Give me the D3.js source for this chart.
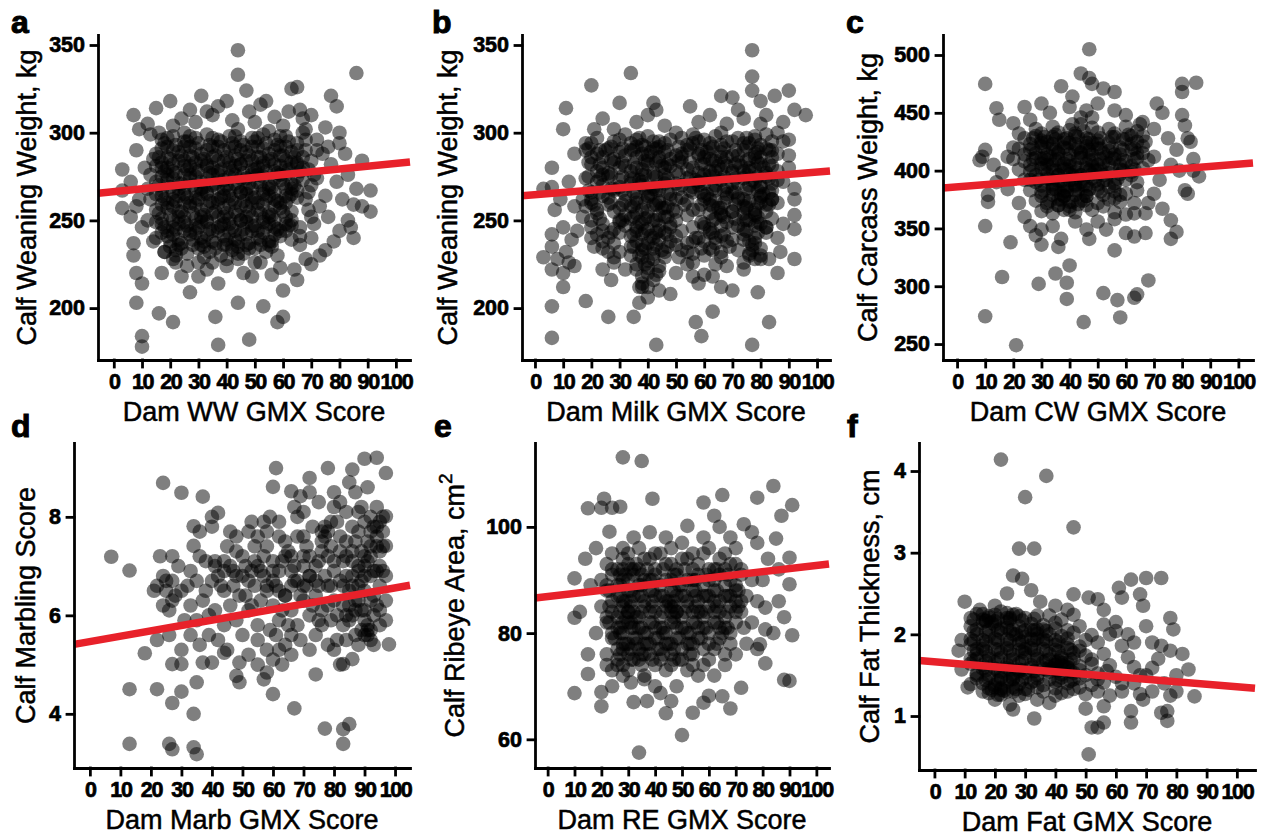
<!DOCTYPE html>
<html>
<head>
<meta charset="utf-8">
<script src="https://cdn.jsdelivr.net/npm/d3@7"></script>
<style>
body { margin: 0; background: #fff; }
text { font-family: "Liberation Sans", Arial, sans-serif; }
</style>
</head>
<body>
<div id="hook"></div>
<script>
// calf weaning weight vs dam WW GMX score
var ptsA = [
[44,347],[44,333],[86,334],[63,325],[65,326],[47,324],[31,321],[77,321],[79,315],[7,310],[15,314],[20,318],[27,313],[37,315],[54,318],[52,316],[66,313],[70,310],[9,302],[13,299],[21,304],[35,310],[75,303],[80,294],[88,284],[3,279],[3,267],[3,257],[6,252],[91,267],[91,255],[85,259],[83,250],[85,240],[80,244],[81,262],[75,264],[76,252],[75,233],[70,240],[70,225],[65,216],[60,210],[60,195],[58,192],[53,201],[48,182],[44,203],[37,179],[36,195],[21,192],[16,197],[10,184],[10,178],[8,203],[8,220],[10,214],[7,230],[7,237],[27,209],[24,218],[17,220],[33,222],[37,214],[49,218],[59,223],[44,231],[42,235],
[8,290],[11,280],[6,272],[9,262],[12,305],[16,300],[24,308],[29,306],[33,312],[40,318],[42,307],[48,312],[50,306],[57,309],[60,304],[62,312],[68,302],[72,296],[74,288],[77,282],[79,272],[82,288],[83,276],[86,268],[88,258],[84,246],[78,238],[73,230],[68,228],[64,222],[56,219],[52,226],[46,220],[40,224],[35,226],[30,218],[26,224],[22,226],[18,232],[14,238],[10,246],[8,258],[12,268],[14,285],[66,236],[71,248],[73,258],[69,266],[72,274],[76,292],[80,300],[67,308],
[17,296],[21,298],[25,295],[29,297],[33,299],[37,296],[41,298],[45,295],[49,297],[53,299],[57,296],[61,298],[65,294],
[15,288],[19,286],[23,289],[27,287],[31,288],[35,286],[39,290],[43,287],[47,289],[51,286],[55,288],[59,287],[63,289],[67,286],
[17,280],[21,278],[25,281],[29,279],[33,281],[37,278],[41,280],[45,282],[49,279],[53,281],[57,278],[61,280],[65,282],[69,279],
[15,272],[19,273],[23,271],[27,274],[31,272],[35,270],[39,273],[43,271],[47,274],[51,272],[55,270],[59,273],[63,271],[67,273],
[17,264],[21,262],[25,265],[29,263],[33,265],[37,262],[41,264],[45,266],[49,263],[53,265],[57,262],[61,264],[65,263],
[15,256],[19,257],[23,255],[27,258],[31,256],[35,254],[39,257],[43,255],[47,258],[51,256],[55,254],[59,257],[63,255],
[17,248],[21,246],[25,249],[29,247],[33,249],[37,246],[41,248],[45,250],[49,247],[53,249],[57,246],[61,248],
[15,240],[19,241],[23,239],[27,242],[31,240],[35,238],[39,241],[43,239],[47,242],[51,240],[55,238],[59,241],[63,239],
[18,232],[22,233],[26,231],[30,234],[34,232],[38,230],[42,233],[46,231],[50,234],[54,232],[58,230],
[19,292],[23,284],[27,292],[31,284],[35,292],[39,284],[43,292],[47,284],[51,292],[55,284],[59,292],[63,283],[25,300],[44,302],[55,301],
[19,276],[23,268],[27,276],[31,268],[35,276],[39,268],[43,276],[47,268],[51,276],[55,268],[59,276],[63,268],
[19,260],[23,252],[27,260],[31,252],[35,260],[39,252],[43,260],[47,252],[51,260],[55,252],[59,260],[63,250],
[19,244],[23,236],[27,244],[31,236],[35,244],[39,236],[43,244],[47,236],[51,244],[55,236],[59,244],[21,228],[30,226],[40,228],[50,226],
[18,294],[22,293],[26,295],[30,294],[34,293],[38,295],[42,294],[46,293],[50,295],[54,294],[58,293],[62,295],
[16,286],[20,285],[24,287],[28,286],[32,285],[36,287],[40,286],[44,285],[48,287],[52,286],[56,285],[60,287],[64,286],
[18,278],[22,277],[26,279],[30,278],[34,277],[38,279],[42,278],[46,277],[50,279],[54,278],[58,277],[62,279],[66,278],
[16,270],[20,269],[24,271],[28,270],[32,269],[36,271],[40,270],[44,269],[48,271],[52,270],[56,269],[60,271],[64,270],
[18,262],[22,261],[26,263],[30,262],[34,261],[38,263],[42,262],[46,261],[50,263],[54,262],[58,261],[62,263],
[16,254],[20,253],[24,255],[28,254],[32,253],[36,255],[40,254],[44,253],[48,255],[52,254],[56,253],[60,255],
[18,246],[22,245],[26,247],[30,246],[34,245],[38,247],[42,246],[46,245],[50,247],[54,246],[58,245],[62,247],
[20,238],[24,237],[28,239],[32,238],[36,237],[40,239],[44,238],[48,237],[52,239],[56,238],
[17,291],[21,290],[25,292],[29,291],[33,290],[37,292],[41,291],[45,290],[49,292],[53,291],[57,290],[61,292],[65,290],
[17,283],[21,282],[25,284],[29,283],[33,282],[37,284],[41,283],[45,282],[49,284],[53,283],[57,282],[61,284],[65,283],
[17,275],[21,274],[25,276],[29,275],[33,274],[37,276],[41,275],[45,274],[49,276],[53,275],[57,274],[61,276],[65,275],
[17,267],[21,266],[25,268],[29,267],[33,266],[37,268],[41,267],[45,266],[49,268],[53,267],[57,266],[61,268],[65,267],
[17,259],[21,258],[25,260],[29,259],[33,258],[37,260],[41,259],[45,258],[49,260],[53,259],[57,258],[61,260],
[17,251],[21,250],[25,252],[29,251],[33,250],[37,252],[41,251],[45,250],[49,252],[53,251],[57,250],[61,252],
[17,243],[21,242],[25,244],[29,243],[33,242],[37,244],[41,243],[45,242],[49,244],[53,243],[57,242],[61,244],
[20,235],[24,234],[28,236],[32,235],[36,234],[40,236],[44,235],[48,234],[52,236],[56,235],
[19,297],[27,298],[35,297],[43,298],[51,297],[59,298],
[15,281],[19,280],[27,281],[35,280],[43,281],[51,280],[59,281],[67,280],
[15,265],[23,264],[31,265],[39,264],[47,265],[55,264],[63,265],
[15,249],[23,248],[31,249],[39,248],[47,249],[55,248],[63,247],
[22,230],[32,229],[44,228],[13,262],[13,276],[12,250],[68,290],[70,270],[69,256],[66,246],
[68,296],[70,284],[71,276],[68,262],[70,252],[66,241],[72,290],[67,300]
];

// calf weaning weight vs dam milk GMX score
var ptsB = [
[77,347],[77,332],[34,334],[20,327],[77,324],[85,321],[90,324],[92,313],[96,310],[11,314],[10,302],[30,317],[42,317],[43,313],[55,315],[66,321],[70,320],[72,313],[80,318],[21,302],[14,288],[6,280],[3,268],[6,269],[7,256],[10,246],[13,239],[3,229],[6,242],[6,235],[6,222],[10,220],[10,212],[6,201],[6,183],[18,204],[26,195],[35,195],[37,203],[43,179],[48,208],[57,192],[59,184],[63,198],[70,210],[77,179],[79,209],[83,192],[86,220],[86,240],[83,228],[92,228],[92,245],[92,253],[92,262],[92,268],[90,287],[90,280],[88,295],[86,300],[80,305],[66,212],[63,218],[60,219],[54,225],[50,220],[37,212],[27,216],[28,229],[21,235],[17,252],[17,262],[18,294],
[9,262],[12,272],[14,258],[8,228],[12,226],[15,244],[24,308],[28,302],[36,306],[40,310],[46,304],[50,300],[58,306],[62,310],[68,305],[74,308],[82,310],[88,306],[84,286],[88,272],[86,260],[88,248],[80,228],[74,222],[68,224],[58,214],[44,210],[40,206],[32,222],[24,222],[20,240],[11,232],[14,224],[87,232],[90,296],[25,290],[30,296],
[22,297],[32,299],[36,296],[40,298],[44,295],[52,297],[56,299],[60,296],[64,298],[68,295],[72,297],[78,296],[82,299],
[18,290],[22,288],[26,291],[30,289],[34,290],[38,288],[42,291],[46,289],[50,287],[54,290],[58,288],[62,291],[66,289],[70,287],[74,290],[78,288],[82,291],[86,288],
[20,282],[24,280],[28,283],[32,281],[36,280],[40,282],[44,284],[48,281],[52,283],[56,280],[60,282],[64,284],[68,281],[72,283],[76,280],[80,282],[84,281],
[18,274],[22,272],[26,275],[30,273],[34,274],[38,272],[42,275],[46,273],[50,271],[54,274],[58,272],[62,275],[66,273],[70,271],[74,274],[78,272],[82,275],[86,273],
[20,266],[24,264],[28,267],[32,265],[36,266],[40,264],[44,267],[48,265],[52,263],[56,266],[60,264],[64,267],[68,265],[72,263],[76,266],[80,264],[84,267],
[18,258],[22,256],[26,259],[30,257],[34,258],[38,256],[42,259],[46,257],[50,255],[58,256],[62,259],[66,257],[70,255],[74,258],[78,256],[82,259],
[20,250],[24,248],[30,249],[34,251],[38,248],[42,250],[46,252],[60,248],[64,251],[68,249],[72,247],[76,250],[80,248],[84,251],
[22,242],[26,240],[30,243],[34,241],[38,242],[42,240],[46,243],[50,241],[58,240],[62,243],[66,241],[70,239],[74,242],[78,240],[82,243],
[24,234],[30,232],[34,235],[38,233],[42,234],[46,232],[52,233],[56,231],[62,234],[66,232],[72,233],[76,231],[80,234],
[28,226],[36,225],[40,227],[44,224],[56,226],[64,225],[74,226],[78,228],[38,218],[42,216],[40,212],[56,218],
[36,292],[40,284],[44,292],[38,276],[42,268],[36,260],[40,252],[44,244],[38,236],[42,228],[36,244],[44,260],[46,280],[40,220],[38,212],
[56,294],[60,286],[64,278],[58,270],[62,262],[66,254],[60,246],[56,238],[64,240],[68,286],[66,300],[60,276],[56,256],[52,288],
[74,294],[78,286],[76,278],[80,270],[74,262],[78,254],[82,246],[76,238],[80,230],[74,250],[80,260],[78,298],
[20,286],[24,276],[20,260],[24,244],[28,268],[30,250],[26,232],[48,296],[50,262],[48,248],[70,278],[70,266],[84,290],[84,262],[30,280],
[20,294],[28,295],[34,294],[38,293],[42,295],[46,294],[54,293],[58,295],[62,294],[66,293],[70,295],[76,294],[80,293],[84,295],
[24,286],[28,285],[32,287],[36,286],[40,287],[44,286],[48,285],[52,286],[58,287],[62,285],[66,286],[72,287],[76,285],[80,286],
[22,278],[26,277],[34,278],[38,279],[42,277],[46,276],[50,278],[54,279],[58,277],[62,278],[66,279],[70,277],[74,278],[78,279],[82,277],[86,278],
[24,270],[30,269],[34,271],[38,270],[42,269],[46,271],[52,270],[56,269],[60,271],[64,270],[68,269],[72,271],[76,270],[80,269],[84,271],
[20,262],[26,263],[32,261],[36,262],[40,263],[44,261],[48,262],[54,261],[60,262],[64,261],[68,263],[72,262],[76,261],[80,263],[84,262],
[22,254],[28,255],[32,253],[36,254],[40,255],[44,253],[62,254],[66,253],[70,255],[74,254],[78,253],[82,255],
[20,246],[28,245],[32,247],[36,246],[40,245],[44,247],[48,246],[62,245],[66,247],[70,246],[74,245],[78,247],[82,246],
[24,238],[28,237],[36,238],[40,237],[44,239],[48,238],[54,237],[60,238],[64,237],[68,238],[74,239],[78,237],
[34,230],[38,229],[42,231],[46,229],[60,230],[66,229],[76,230],[36,222],[40,223],[44,221],[38,214],
[19,291],[23,290],[27,292],[31,291],[35,290],[39,292],[43,291],[47,290],[51,292],[55,291],[59,290],[63,292],[67,291],[71,290],[75,292],[79,291],[83,290],
[19,283],[23,282],[27,284],[31,283],[35,282],[39,284],[43,283],[47,282],[51,284],[55,283],[59,282],[63,284],[67,283],[71,282],[75,284],[79,283],[83,282],
[19,275],[23,274],[27,276],[31,275],[35,274],[39,276],[43,275],[47,274],[51,276],[55,275],[59,274],[63,276],[67,275],[71,274],[75,276],[79,275],[83,274],
[19,267],[23,266],[27,268],[31,267],[35,266],[39,268],[43,267],[47,266],[51,268],[55,267],[59,266],[63,268],[67,267],[71,266],[75,268],[79,267],[83,266],
[21,259],[27,260],[31,259],[35,258],[39,260],[43,259],[47,258],[59,259],[63,258],[67,260],[71,259],[75,258],[79,260],[83,259],
[23,251],[31,250],[35,252],[39,251],[43,250],[47,252],[63,250],[67,252],[71,251],[75,250],[79,252],
[27,243],[35,242],[39,244],[43,243],[47,242],[63,243],[67,242],[75,244],[79,243],
[35,235],[39,234],[43,236],[47,235],[59,234],[69,235],[77,236],
[37,297],[41,289],[45,281],[37,273],[41,265],[45,257],[37,249],[41,241],[45,233],[39,225],[43,219],[37,230],
[57,297],[61,289],[65,281],[57,273],[61,265],[65,257],[59,249],[63,233],
[75,297],[79,289],[73,281],[77,273],[81,265],[75,257],[79,249],[77,233],[81,280],
[50,250],[52,244],[54,253],[50,236],[53,259],[49,256],[56,246],[51,229],[54,232],[57,240]
];

// calf carcass weight vs dam CW GMX score
var ptsC = [
[47,505],[10,475],[80,475],[85,476],[80,468],[44,484],[47,480],[48,475],[52,471],[56,468],[37,473],[41,464],[14,454],[30,458],[24,455],[15,444],[20,441],[71,458],[73,450],[80,448],[81,439],[82,428],[83,425],[9,412],[10,418],[8,409],[11,379],[11,373],[10,352],[10,274],[16,308],[19,338],[21,249],[29,302],[30,336],[28,344],[30,349],[36,334],[37,341],[35,311],[40,318],[39,303],[39,289],[45,269],[52,294],[57,288],[58,273],[63,290],[64,293],[68,305],[56,331],[53,349],[46,349],[47,341],[60,346],[63,343],[67,346],[67,363],[73,367],[76,357],[76,341],[78,347],[81,383],[82,380],[86,395],[84,400],[79,400],[63,363],[63,372],
[13,405],[16,398],[14,390],[18,384],[20,420],[22,432],[26,444],[33,450],[40,455],[50,458],[56,452],[60,448],[66,442],[70,436],[75,428],[78,418],[76,405],[72,392],[70,380],[68,372],[22,372],[24,360],[26,352],[34,352],[42,356],[50,356],[56,358],[60,362],[18,412],[28,430],[48,446],[62,430],[84,410],[70,412],
[28,436],[34,438],[40,435],[44,440],[48,437],[54,436],[60,438],[64,434],
[24,428],[30,426],[34,429],[38,427],[42,430],[46,428],[50,426],[56,429],[60,427],[66,430],
[22,419],[26,418],[30,421],[34,419],[38,420],[42,418],[46,421],[50,419],[54,417],[58,420],[62,418],[66,421],
[20,410],[24,408],[28,411],[32,409],[36,410],[40,408],[44,411],[48,409],[52,407],[56,410],[60,408],[64,411],[68,409],
[22,401],[26,399],[30,402],[34,400],[38,401],[42,399],[46,402],[50,400],[54,398],[58,401],[62,399],[66,402],
[24,392],[28,390],[32,393],[36,391],[40,392],[44,390],[48,393],[52,391],[56,389],[60,392],[64,390],
[26,383],[30,381],[34,384],[38,382],[42,383],[46,381],[50,384],[56,382],[60,380],[64,383],
[28,374],[32,372],[36,375],[40,373],[44,374],[50,372],[54,375],[58,373],
[30,365],[34,363],[38,366],[42,364],[48,366],[56,364],
[32,425],[36,416],[40,424],[44,416],[48,424],[32,405],[36,396],[40,404],[44,396],[48,404],[34,386],[38,378],[42,387],[46,378],[36,370],[40,366],[44,446],[46,452],[58,414],[62,404],[54,386],[56,376],[30,410],[26,392],[64,425],[66,415],
[30,432],[36,433],[42,432],[50,433],[56,432],
[26,423],[30,424],[34,423],[38,424],[42,423],[46,424],[50,423],[54,424],[62,423],
[24,414],[28,415],[32,414],[36,415],[40,414],[44,415],[48,414],[52,415],[56,414],[64,415],
[26,405],[30,406],[34,405],[38,406],[42,405],[46,406],[50,405],[54,406],[58,405],
[28,396],[32,397],[36,396],[40,397],[44,396],[48,397],[52,396],[58,397],[62,396],
[30,387],[34,388],[38,387],[42,388],[46,387],[50,388],[56,387],
[30,378],[34,379],[38,378],[42,379],[46,378],[52,379],[58,379],
[32,369],[36,370],[40,369],[46,370],[52,369],
[27,428],[31,429],[35,427],[39,428],[43,429],[47,427],[51,428],[55,429],[59,427],
[27,419],[31,420],[35,418],[39,419],[43,420],[47,418],[51,419],[55,420],[59,418],[63,419],
[27,410],[31,411],[35,409],[39,410],[43,411],[47,409],[51,410],[55,411],[59,409],[63,410],
[27,401],[31,402],[35,400],[39,401],[43,402],[47,400],[51,401],[55,402],[59,400],[63,401],
[29,392],[33,393],[37,391],[41,392],[45,393],[49,391],[53,392],[57,393],
[31,383],[35,384],[39,382],[43,383],[47,384],[51,382],
[33,374],[37,375],[41,373],[45,374],
[35,431],[41,440],[45,434],[33,412],[37,404],[41,396],[45,388],[39,386],[43,371],[37,380],[47,416],[49,400],[53,412],[61,431],[65,440],[67,425]
];

// calf marbling score vs dam marb GMX score
var ptsD = [
[7,7.19],[13,6.91],[13,4.5],[13,3.39],[24,8.69],[22,4.5],[18,5.23],[26,3.39],[27,3.28],[27,4.22],[27,5.01],[30,5.01],[30,4.45],[34,3.32],[35,3.18],[34,4.0],[35,4.64],[30,8.49],[37,8.41],[34,7.81],[40,8.0],[42,8.08],[34,7.41],[23,7.2],[27,7.2],[61,8.99],[60,8.61],[72,8.79],[78,8.99],[90,9.18],[94,9.2],[86,8.96],[97,8.89],[66,8.52],[69,8.42],[97,8.01],[97,7.41],[98,5.41],[74,4.8],[67,4.11],[77,3.7],[83,3.69],[85,3.79],[83,3.39],[83,5.01],[86,5.11],[60,4.4],[57,4.7],[58,4.84],[49,4.64],[48,4.77],[49,5.04],[40,5.04],[37,5.04],[44,5.24],
[45,7.4],[48,7.6],[52,7.7],[55,7.6],[57,7.9],[59,8.0],[62,7.9],[64,7.5],[67,8.2],[70,8.1],[73,7.8],[75,8.3],[76,7.3],[78,7.7],[80,8.2],[82,8.3],[84,8.1],[86,7.8],[88,8.1],[90,7.9],[92,8.0],[94,7.8],[96,8.0],[87,8.5],[91,8.6],[85,8.7],[94,8.2],
[22,6.6],[24,6.8],[25,6.5],[27,6.7],[30,6.5],[33,6.9],[35,6.7],[38,7.1],[41,7.0],[42,6.8],[44,7.1],[47,6.9],[50,7.2],[53,6.9],[55,7.0],[57,6.8],[60,7.1],[62,6.9],[65,7.3],[67,7.0],[70,7.2],[72,6.8],[75,7.1],[78,7.2],[80,6.9],[83,7.1],[86,6.8],[88,7.0],[90,7.2],[92,6.8],[95,7.0],[97,6.8],[36,7.7],[40,7.8],[48,7.3],[58,7.4],[68,7.6],[82,7.6],[91,7.5],
[21,6.5],[24,6.2],[26,6.1],[28,6.4],[31,5.9],[33,6.2],[35,5.9],[37,6.3],[39,6.0],[41,6.1],[44,6.5],[46,6.2],[48,5.9],[51,6.4],[53,6.2],[55,5.8],[58,6.5],[60,6.2],[62,5.9],[64,6.4],[66,6.1],[68,5.8],[70,6.3],[72,6.0],[74,6.4],[76,6.1],[79,5.9],[81,6.0],[83,6.2],[85,5.9],[87,6.3],[89,6.1],[91,5.7],[93,6.4],[95,6.1],[97,6.3],
[22,5.5],[26,5.6],[30,5.3],[33,5.6],[36,5.4],[39,5.6],[42,5.5],[45,5.3],[50,5.6],[52,5.2],[55,5.5],[58,5.3],[61,5.6],[64,5.4],[66,5.2],[69,5.5],[72,5.3],[74,5.6],[78,5.4],[81,5.5],[84,5.5],[88,5.4],[90,5.6],[92,5.5],[95,5.8],
[60,5.1],[62,5.3],[55,5.0],[63,5.0],[66,5.6],[80,5.3],[82,5.0],
[76,7.7],[77,7.8],[88,6.9],[90,7.0],[91,5.6],[92,5.7],[84,6.0],[86,6.0],[58,6.6],[60,6.9],[64,6.4],[72,6.8],[41,7.1],[25,6.7],[93,7.8],[94,7.6],[70,7.0],[66,7.2],[50,6.8],[54,6.6],[84,7.5],[86,7.3],[79,6.6],[75,6.6],[68,6.7],[62,7.6],[88,7.7],[96,7.4],[92,7.2],[80,8.5],[72,8.5],[70,7.6],[85,6.5],[90,6.5],[94,6.9],
[43,6.6],[46,7.7],[49,6.4],[51,7.0],[53,7.9],[56,6.3],[57,7.2],[59,5.7],[61,6.6],[63,7.1],[65,5.8],[66,6.6],[68,8.0],[69,6.4],[71,7.4],[73,6.2],[74,7.0],[76,5.8],[77,6.8],[79,7.4],[80,6.3],[81,7.9],[82,6.7],[83,5.8],[84,7.2],[85,6.2],[87,7.5],[87,5.6],[89,6.7],[89,8.2],[90,5.9],[91,7.1],[92,6.3],[93,5.4],[94,7.4],[95,6.6],[96,7.7],[97,5.9],[38,6.5],[36,7.2],[32,6.6],[29,7.0],[27,6.3],[44,5.8],[47,6.6],[52,6.1],[54,7.4],[58,7.7],[63,6.1],[67,6.7],[71,6.6],[75,5.9],[78,6.2],[86,6.6],[88,6.3],[90,6.1],[93,6.9],[95,7.3],
[86,7.1],[88,6.6],[90,6.8],[92,7.4],[94,6.2],[96,6.9],[84,6.8],[82,7.3],[80,7.1],[78,6.6],[76,7.5],[74,6.7],[72,7.2],[70,6.6],[66,6.9],[64,7.2],[62,6.5],[60,6.7],[56,6.9],[54,7.1],[52,6.7],[48,6.8],[46,7.0],[44,6.9],[40,6.7],[91,5.8],[89,5.7],[93,6.0],[87,6.1],[83,6.6],[79,7.9],[77,7.6],[92,7.7],[95,7.9],[89,7.3]
];

// calf ribeye area vs dam RE GMX score
var ptsE = [
[28,113.1],[35,112.4],[84,107.7],[91,104.1],[87,102.1],[78,105.5],[65,106],[58,104.6],[39,105.3],[21,105.3],[20,103.6],[15,103.5],[27,103.8],[24,103.6],[62,102.1],[23,99.1],[73,100.5],[52,100.2],[10,90.3],[10,82.9],[15,72.3],[10,68.7],[20,68.9],[20,66.2],[34,57.5],[50,60.8],[44,64.9],[42,68.7],[46,67.2],[54,65],[58,66.9],[60,68.2],[65,68.1],[68,65.8],[72,69.7],[81,74.3],[88,71.2],[90,71],[91,79.6],[90,89.2],[90,94.2],[85,97.8],[81,84.8],[81,80.7],[78,77],[79,77.9],[31,70.7],[36,71.3],[32,67],[37,67.2],
[14,94],[16,89],[12,84],[18,80],[15,76],[22,74],[24,70],[28,72],[40,70],[48,70],[56,72],[62,72],[66,74],[70,76],[74,78],[76,82],[78,86],[80,90],[82,94],[78,97],[76,99],[68,98],[64,100],[58,98],[50,97],[44,98],[38,99],[32,98],[28,96],[24,95],[18,96],[86,86],[84,80],[88,83],[86,92],
[30,95],[34,96],[42,95],[46,96],[54,95],[60,96],[66,95],[70,96],
[22,93],[26,92],[30,93],[34,92],[38,94],[44,93],[48,92],[52,94],[56,93],[62,92],[68,93],[72,92],
[20,90],[24,91],[28,90],[32,91],[36,90],[40,91],[44,90],[48,91],[52,90],[56,91],[60,90],[64,91],[68,90],[72,91],[76,90],
[22,88],[26,87],[30,88],[34,87],[38,88],[42,87],[46,88],[50,87],[54,88],[58,87],[62,88],[66,87],[70,88],[74,87],
[20,85],[24,84],[28,85],[32,84],[36,85],[40,84],[44,85],[48,84],[52,85],[56,84],[60,85],[64,84],[68,85],[72,84],
[22,82],[26,81],[30,82],[34,81],[38,82],[42,81],[46,82],[50,81],[54,82],[58,81],[62,82],[66,81],[70,82],
[24,79],[28,78],[32,79],[36,78],[40,79],[44,78],[48,79],[52,78],[56,79],[60,78],[64,79],[68,78],
[22,76],[26,75],[30,76],[34,75],[38,76],[42,75],[46,76],[50,75],[54,76],[60,75],[66,76],
[24,73],[30,73],[36,72],[44,73],[52,73],[58,74],
[27,89],[31,86],[29,83],[27,80],[31,77],[35,89],[39,86],[33,83],[37,80],[41,77],[45,86],[47,83],[49,89],[43,80],[47,77],[35,74],[26,74],[55,87],[57,84],[53,80],[49,75],[29,91],[33,93],[37,92],[62,86],[65,80],[70,86],[73,81],
[28,94],[36,94],[40,95],[50,94],[58,95],[64,94],
[24,92],[28,92],[32,92],[40,92],[46,93],[54,92],[60,92],[66,92],[70,93],
[22,89],[26,89],[30,90],[34,89],[38,90],[42,89],[46,90],[50,89],[54,90],[58,89],[62,90],[66,89],[70,89],
[24,86],[28,86],[32,87],[36,86],[40,87],[44,86],[48,87],[52,86],[56,86],[60,87],[64,86],[68,87],[72,86],
[22,83],[26,83],[30,84],[34,83],[38,84],[42,83],[46,84],[50,83],[54,84],[58,83],[62,84],[66,83],[70,84],
[24,80],[28,80],[32,81],[36,80],[40,81],[44,80],[48,81],[52,80],[56,81],[60,80],[64,81],[68,80],
[26,77],[30,78],[34,77],[38,78],[42,77],[46,78],[50,77],[54,78],[58,77],[62,77],
[28,74],[32,75],[40,74],[46,74],[54,74],
[27,91],[31,92],[35,91],[39,90],[43,92],[47,91],[51,92],[55,90],[59,91],[63,92],[67,91],
[23,88],[27,87],[31,88],[35,87],[39,88],[43,87],[47,88],[51,87],[55,88],[59,87],[63,88],[67,87],[71,88],
[23,85],[27,84],[31,85],[35,84],[39,85],[43,84],[47,85],[51,84],[55,85],[59,84],[63,85],[67,84],[71,85],
[23,82],[27,81],[31,82],[35,81],[39,82],[43,81],[47,82],[51,81],[55,82],[59,81],[63,82],[67,81],
[25,79],[29,78],[33,79],[37,78],[41,79],[45,78],[49,79],[53,78],[57,79],[63,78],
[27,76],[31,75],[35,76],[39,75],[43,76],[47,75],[53,76],
[29,86],[30,84],[31,81],[28,82],[46,85],[48,84],[47,86],[33,78],[36,76],[28,77]
];

// calf fat thickness vs dam fat GMX score
var ptsF = [
[22,4.14],[37,3.94],[30,3.68],[46,3.31],[28,3.05],[33,3.05],[26,2.72],[29,2.68],[32,2.54],[70,2.69],[75,2.69],[65,2.67],[61,2.57],[62,2.45],[68,2.49],[46,2.49],[46,2.24],[54,2.43],[51,2.45],[10,2.4],[78,2.2],[79,2.06],[82,1.76],[84,1.57],[86,1.24],[77,1.06],[75,1.04],[77,0.94],[65,1.06],[65,0.92],[68,1.27],[69,1.2],[56,0.92],[54,0.86],[51,0.53],[52,0.86],[50,1.09],[56,1.12],[38,1.16],[33,0.97],[26,1.08],[25,1.14],[11,1.35],[12,1.39],[9,1.93],[9,1.57],[72,1.59],[75,1.86],[69,2.35],
[12,2.2],[15,2.3],[20,2.35],[24,2.5],[35,2.4],[40,2.35],[44,2.3],[56,2.3],[60,2.15],[58,2.0],[64,2.0],[66,1.9],[70,2.1],[72,1.9],[74,1.7],[78,1.8],[80,1.5],[76,1.4],[72,1.3],[66,1.4],[62,1.3],[58,1.25],[54,1.3],[48,1.35],[44,1.3],[40,1.25],[34,1.2],[28,1.25],[20,1.2],[16,1.3],[14,1.5],[12,1.7],[8,1.8],[80,1.3],[78,1.25],[70,1.5],
[14,2.25],[18,2.22],[22,2.28],[26,2.24],[30,2.2],[38,2.23],[42,2.18],
[12,2.1],[16,2.14],[20,2.12],[24,2.15],[28,2.1],[32,2.13],[36,2.11],[40,2.14],[48,2.1],[56,2.12],
[14,2.0],[18,1.98],[22,2.02],[26,2.0],[30,1.97],[34,2.01],[38,2.0],[42,1.98],[46,2.02],[52,1.99],[60,2.04],
[12,1.88],[16,1.86],[20,1.9],[24,1.87],[28,1.89],[32,1.86],[36,1.9],[40,1.87],[44,1.88],[48,1.85],[54,1.9],[62,1.86],
[14,1.76],[18,1.74],[22,1.78],[26,1.75],[30,1.77],[34,1.74],[38,1.76],[42,1.73],[46,1.77],[50,1.74],[56,1.76],[64,1.72],
[12,1.64],[16,1.62],[20,1.66],[24,1.63],[28,1.65],[32,1.62],[36,1.66],[40,1.63],[44,1.65],[48,1.61],[52,1.64],[58,1.62],[66,1.6],
[14,1.52],[18,1.5],[22,1.54],[26,1.51],[30,1.53],[34,1.5],[38,1.54],[42,1.51],[46,1.53],[50,1.5],[54,1.52],[60,1.48],[68,1.5],
[16,1.4],[20,1.38],[24,1.42],[28,1.39],[32,1.41],[36,1.38],[40,1.42],[44,1.4],[52,1.38],[56,1.41],[62,1.4],
[18,1.28],[22,1.26],[26,1.3],[30,1.27],[36,1.3],[42,1.28],[50,1.27],
[16,2.18],[18,2.2],[20,2.16],[25,2.2],[27,2.25],[24,2.08],[18,2.06],[30,2.05],[34,2.06],[40,1.66],[42,1.62],[38,1.6],[44,1.6],[22,1.45],[20,1.35],[24,1.3],[26,1.46],[28,1.55],[14,1.82],[30,1.82],[34,1.95],[46,1.45],[54,1.45],[57,1.55],
[16,2.25],[20,2.24],[24,2.26],[28,2.22],[34,2.23],
[14,2.06],[22,2.07],[26,2.06],[32,2.05],[36,2.06],[40,2.07],[44,2.05],
[12,1.94],[16,1.93],[20,1.95],[24,1.94],[28,1.93],[32,1.95],[36,1.94],[40,1.93],[44,1.95],[50,1.93],
[16,1.82],[20,1.82],[24,1.83],[28,1.81],[32,1.83],[36,1.82],[40,1.81],[44,1.83],[48,1.8],
[14,1.7],[18,1.7],[22,1.71],[26,1.69],[30,1.71],[34,1.7],[38,1.69],[42,1.71],[46,1.7],[52,1.69],
[16,1.58],[20,1.58],[24,1.59],[28,1.57],[32,1.59],[36,1.58],[40,1.57],[44,1.59],[48,1.56],
[14,1.46],[18,1.46],[22,1.47],[26,1.45],[30,1.47],[34,1.46],[38,1.45],[42,1.47],[48,1.46],
[18,1.34],[22,1.34],[26,1.35],[30,1.33],[34,1.35],[40,1.34],[46,1.33],
[13,2.18],[17,2.17],[21,2.19],[25,2.18],[29,2.17],[33,2.19],
[13,2.04],[17,2.03],[21,2.05],[25,2.04],[29,2.03],[33,2.05],[37,2.04],
[13,1.92],[17,1.91],[21,1.93],[25,1.92],[29,1.91],[33,1.93],[37,1.92],[41,1.91],
[13,1.8],[17,1.79],[21,1.81],[25,1.8],[29,1.79],[33,1.81],[37,1.8],[41,1.79],[45,1.81],
[13,1.68],[17,1.67],[21,1.69],[25,1.68],[29,1.67],[33,1.69],[37,1.68],[41,1.67],[45,1.69],
[17,1.56],[21,1.55],[25,1.57],[29,1.56],[33,1.55],[37,1.57],[41,1.56],[45,1.55],
[17,1.44],[21,1.43],[25,1.45],[29,1.44],[33,1.43],[41,1.44],[45,1.43],
[19,1.32],[23,1.31],[27,1.33],[31,1.32],
[40,1.62],[42,1.65],[43,1.6],[39,1.58],[17,2.16],[19,2.14],[24,2.2],[22,1.32],[21,1.26],[27,2.0]
];

// fitted regression lines (x, y at both ends of the axis)
var fitA = [[-5.6, 265.5], [105, 283.3]];
var fitB = [[-4.6, 264.0], [104.6, 278.2]];
var fitC = [[-5.0, 385.0], [105.2, 406.6]];
var fitD = [[-5.2, 5.41], [104.9, 6.61]];
var fitE = [[-4.7, 86.6], [104.7, 93.0]];
var fitF = [[-5.1, 1.68], [106, 1.34]];

var xTicks = [0, 10, 20, 30, 40, 50, 60, 70, 80, 90, 100];
var yTicksA = [200, 250, 300, 350];
var yTicksC = [250, 300, 350, 400, 450, 500];
var yTicksD = [4, 6, 8];
var yTicksE = [60, 80, 100];
var yTicksF = [1, 2, 3, 4];

var panels = [
    {letter: "a", pts: ptsA, fit: fitA, yTicks: yTicksA, xd: [-5.6, 105], yd: [170.4, 355.7],
     left: 98, right: 410, top: 35, bottom: 360, lx: 11, ly: 33, tx: 36,
     xTitle: "Dam WW GMX Score", yTitle: "Calf Weaning Weight, kg"},
    {letter: "b", pts: ptsB, fit: fitB, yTicks: yTicksA, xd: [-4.6, 104.6], yd: [170.4, 355.7],
     left: 522, right: 830, top: 35, bottom: 360, lx: 432, ly: 33, tx: 457,
     xTitle: "Dam Milk GMX Score", yTitle: "Calf Weaning Weight, kg"},
    {letter: "c", pts: ptsC, fit: fitC, yTicks: yTicksC, xd: [-5, 105.2], yd: [236.2, 517.3],
     left: 943, right: 1253, top: 35, bottom: 360, lx: 846, ly: 33, tx: 877,
     xTitle: "Dam CW GMX Score", yTitle: "Calf Carcass Weight, kg"},
    {letter: "d", pts: ptsD, fit: fitD, yTicks: yTicksD, xd: [-5.2, 104.9], yd: [2.9, 9.5],
     left: 74, right: 410, top: 443, bottom: 768, lx: 11, ly: 437, tx: 35,
     xTitle: "Dam Marb GMX Score", yTitle: "Calf Marbling Score"},
    {letter: "e", pts: ptsE, fit: fitE, yTicks: yTicksE, xd: [-4.7, 104.7], yd: [54.6, 115.8],
     left: 535, right: 829, top: 443, bottom: 768, lx: 434, ly: 437, tx: 464,
     xTitle: "Dam RE GMX Score", yTitle: "Calf Ribeye Area, cm", sup: "2"},
    {letter: "f", pts: ptsF, fit: fitF, yTicks: yTicksF, xd: [-5.1, 106], yd: [0.339, 4.343],
     left: 919, right: 1255, top: 443, bottom: 770, lx: 847, ly: 437, tx: 879,
     xTitle: "Dam Fat GMX Score", yTitle: "Calf Fat Thickness, cm"}
];

var svg = d3.select("#hook")
    .append("svg")
    .attr("width", 1263)
    .attr("height", 836);

panels.forEach(function (p) {
    var x = d3.scaleLinear().domain(p.xd).range([p.left, p.right]);
    var y = d3.scaleLinear().domain(p.yd).range([p.bottom, p.top]);
    var g = svg.append("g");

    g.selectAll("circle")
        .data(p.pts)
        .enter()
        .append("circle")
        .attr("cx", function (d) { return x(d[0]); })
        .attr("cy", function (d) { return y(d[1]); })
        .attr("r", 7.3)
        .style("fill", "#000")
        .style("fill-opacity", 0.5);

    g.append("path")
        .datum(p.fit)
        .attr("d", d3.line().x(function (d) { return x(d[0]); }).y(function (d) { return y(d[1]); }))
        .style("fill", "none")
        .style("stroke", "#e8212a")
        .style("stroke-width", 7.5);

    var xa = g.append("g")
        .attr("transform", "translate(0," + p.bottom + ")")
        .call(d3.axisBottom(x).tickValues(xTicks).tickFormat(d3.format("d"))
            .tickSize(7).tickPadding(7).tickSizeOuter(0));
    var ya = g.append("g")
        .attr("transform", "translate(" + p.left + ",0)")
        .call(d3.axisLeft(y).tickValues(p.yTicks).tickFormat(d3.format("d"))
            .tickSize(7).tickPadding(6).tickSizeOuter(0));

    [xa, ya].forEach(function (a) {
        a.selectAll("path, line").style("stroke", "#000").style("stroke-width", 2.8).style("stroke-linecap", "square");
        a.selectAll("text")
            .style("font-size", "21.5px")
            .style("font-weight", "bold")
            .style("fill", "#000")
            .style("stroke", "#000")
            .style("stroke-width", 0.7)
            .style("font-family", "'Liberation Sans', Arial, sans-serif");
    });
    // the x labels sit tight together, as in the figure
    xa.selectAll("text").style("letter-spacing", "-1.4px");

    g.append("text")
        .attr("x", (p.left + p.right) / 2)
        .attr("y", p.bottom + 61)
        .attr("text-anchor", "middle")
        .style("font-size", "27px")
        .style("stroke", "#000")
        .style("stroke-width", 0.5)
        .text(p.xTitle);

    var yt = g.append("text")
        .attr("transform", "translate(" + p.tx + "," + (p.top + p.bottom) / 2 + ") rotate(-90)")
        .attr("text-anchor", "middle")
        .style("font-size", "27px")
        .style("stroke", "#000")
        .style("stroke-width", 0.5)
        .text(p.yTitle);
    if (p.sup) {
        yt.append("tspan")
            .attr("dy", -12)
            .style("font-size", "19px")
            .text(p.sup);
    }

    g.append("text")
        .attr("x", p.lx)
        .attr("y", p.ly)
        .style("font-size", "32px")
        .style("font-weight", "bold")
        .style("stroke", "#000")
        .style("stroke-width", 1)
        .text(p.letter);
});
</script>
</body>
</html>
